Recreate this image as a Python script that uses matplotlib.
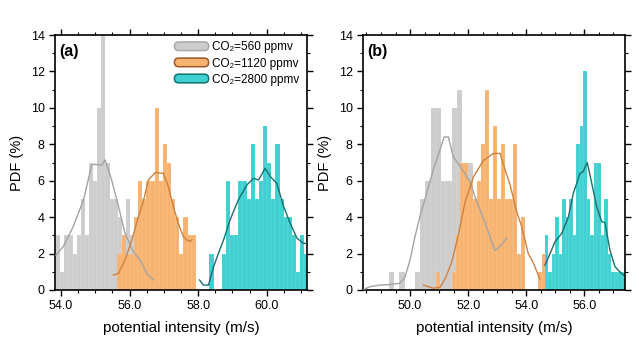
import numpy as np
import matplotlib
matplotlib.use("Agg")
import matplotlib.pyplot as plt
from matplotlib.patches import FancyBboxPatch, Patch
from matplotlib.legend_handler import HandlerPatch
from matplotlib.ticker import MultipleLocator, FormatStrFormatter

plt.rcParams['font.family'] = ['Liberation Sans', 'DejaVu Sans']

# ---------------- data ----------------
labels = ["CO\u2082=560 ppmv", "CO\u2082=1120 ppmv", "CO\u2082=2800 ppmv"]

# panel (a) histograms: first bin left edge, bin width, heights (%)
a_gray_start, a_gray_width = 53.86, 0.12
a_gray_h = [3, 1, 3, 3, 2, 3, 5, 3, 7, 6, 10, 14, 7, 5, 5, 4, 2, 5, 3, 2, 1, 1]
a_orange_start, a_orange_width = 55.65, 0.12
a_orange_h = [2, 3, 2, 2, 4, 6, 5, 6, 6, 10, 6, 8, 7, 5, 4, 2, 4, 3, 3]
a_teal_start, a_teal_width = 58.33, 0.12
a_teal_h = [2, 0, 0, 2, 6, 3, 3, 6, 6, 5, 8, 5, 6, 9, 7, 5, 8, 5, 4, 4, 3, 1, 3, 2]

# panel (a) smoothed pdf curves
a_gray_cx = [53.86, 54.07, 54.36, 54.66, 54.90, 55.00, 55.19, 55.29, 55.48, 55.68, 55.87, 56.11, 56.31, 56.50, 56.70]
a_gray_cy = [1.92, 2.38, 3.48, 4.95, 6.87, 6.9, 6.85, 7.14, 6.04, 4.58, 3.11, 2.10, 1.65, 0.92, 0.55]
a_orange_cx = [55.53, 55.68, 55.87, 56.07, 56.26, 56.40, 56.55, 56.75, 56.99, 57.13, 57.28, 57.42, 57.57, 57.67, 57.77, 57.82]
a_orange_cy = [0.82, 0.92, 1.65, 2.75, 4.03, 4.85, 6.04, 6.45, 6.40, 5.68, 4.58, 3.66, 2.93, 2.75, 2.66, 2.75]
a_teal_cx = [58.04, 58.15, 58.30, 58.45, 58.59, 58.74, 58.93, 59.17, 59.42, 59.61, 59.76, 59.95, 60.10, 60.29, 60.49, 60.68, 60.88, 61.07, 61.21]
a_teal_cy = [0.55, 0.27, 0.27, 1.28, 2.01, 2.75, 3.85, 4.95, 5.77, 6.13, 6.04, 6.68, 6.23, 5.86, 4.58, 3.66, 2.84, 2.56, 2.56]

# panel (b) histograms
b_gray_start, b_gray_width = 49.27, 0.18
b_gray_h = [1, 0, 1, 0, 0, 1, 5, 6, 10, 10, 6, 6, 10, 11, 5, 7, 4, 3, 2, 2, 1, 1]
b_orange_start, b_orange_width = 50.89, 0.14
b_orange_h = [1, 0, 0, 0, 1, 3, 7, 7, 6, 5, 6, 8, 11, 5, 9, 5, 8, 5, 5, 8, 2, 4, 0, 0, 0, 1, 2]
b_teal_start, b_teal_width = 54.645, 0.12
b_teal_h = [3, 1, 2, 4, 2, 5, 4, 5, 3, 8, 9, 12, 5, 3, 7, 7, 3, 5, 2, 1, 1, 1, 1]

# panel (b) smoothed pdf curves
b_gray_cx = [48.41, 48.62, 48.97, 49.31, 49.65, 49.83, 50.00, 50.17, 50.34, 50.57, 50.80, 51.03, 51.17, 51.32, 51.49, 51.72, 51.89, 52.06, 52.24, 52.58, 52.92, 53.10, 53.33]
b_gray_cy = [0.04, 0.18, 0.27, 0.30, 0.37, 0.73, 1.65, 2.93, 4.03, 5.30, 6.60, 7.70, 8.40, 8.40, 7.30, 6.80, 6.40, 5.95, 5.10, 3.70, 2.16, 2.40, 2.84]
b_orange_cx = [50.46, 50.80, 51.03, 51.20, 51.43, 51.66, 51.89, 52.18, 52.52, 52.87, 53.10, 53.27, 53.44, 53.67, 53.84, 54.07, 54.24, 54.47]
b_orange_cy = [0.27, 0.10, 0.15, 0.60, 1.50, 3.00, 4.80, 6.20, 7.10, 7.50, 7.50, 6.60, 5.80, 4.30, 3.50, 2.00, 1.50, 0.60]
b_teal_cx = [54.645, 54.82, 54.99, 55.22, 55.45, 55.62, 55.85, 55.96, 56.10, 56.25, 56.42, 56.60, 56.71, 56.88, 57.05, 57.16, 57.34]
b_teal_cy = [1.37, 2.00, 2.65, 3.10, 4.00, 5.30, 6.40, 6.50, 7.00, 5.90, 4.60, 3.75, 3.70, 2.20, 1.30, 1.10, 0.82]

# ---------------- styles ----------------
fills = ['#cdcdcd', '#f8b370', '#3fd1d1']
lines = ['#a3a3a3', '#cf8141', '#17706f']
edges = ['#aaaaaa', '#9a5a2a', '#117272']

W, H = 639, 347
fig = plt.figure(figsize=(W / 100, H / 100), dpi=100)
ax_a = fig.add_axes([55 / W, 1 - 290 / H, 252 / W, 255 / H])
ax_b = fig.add_axes([363 / W, 1 - 290 / H, 262 / W, 255 / H])


def hist(ax, start, width, heights, color):
    lefts = start + width * np.arange(len(heights))
    ax.bar(lefts, heights, width=width, align='edge', color=color,
           edgecolor=(1, 1, 1, 0.25), linewidth=0.3, zorder=2)


def style(ax, xlim, label):
    ax.set_xlim(*xlim)
    ax.set_ylim(0, 14)
    ax.xaxis.set_major_locator(MultipleLocator(2))
    ax.xaxis.set_minor_locator(MultipleLocator(0.5))
    ax.xaxis.set_major_formatter(FormatStrFormatter('%.1f'))
    ax.yaxis.set_major_locator(MultipleLocator(2))
    ax.yaxis.set_minor_locator(MultipleLocator(1))
    ax.tick_params(which='both', direction='out', top=True, right=True,
                   labelsize=9, width=1, pad=3)
    ax.tick_params(which='major', length=4.5)
    ax.tick_params(which='minor', length=2.5, width=0.8)
    for s in ax.spines.values():
        s.set_linewidth(1.2)
    ax.set_xlabel('potential intensity (m/s)', fontsize=11, labelpad=6)
    ax.set_ylabel('PDF (%)', fontsize=10.5, labelpad=5)
    ax.text(0.015, 0.965, label, transform=ax.transAxes, fontsize=11.5,
            fontweight='bold', va='top', ha='left')


# panel (a)
hist(ax_a, a_gray_start, a_gray_width, a_gray_h, fills[0])
hist(ax_a, a_orange_start, a_orange_width, a_orange_h, fills[1])
hist(ax_a, a_teal_start, a_teal_width, a_teal_h, fills[2])
ax_a.plot(a_gray_cx, a_gray_cy, color=lines[0], lw=1, zorder=3)
ax_a.plot(a_orange_cx, a_orange_cy, color=lines[1], lw=1, zorder=3)
ax_a.plot(a_teal_cx, a_teal_cy, color=lines[2], lw=1, zorder=3)
style(ax_a, (53.83, 61.17), '(a)')

# panel (b)
hist(ax_b, b_gray_start, b_gray_width, b_gray_h, fills[0])
hist(ax_b, b_orange_start, b_orange_width, b_orange_h, fills[1])
hist(ax_b, b_teal_start, b_teal_width, b_teal_h, fills[2])
ax_b.plot(b_gray_cx, b_gray_cy, color=lines[0], lw=1, zorder=3)
ax_b.plot(b_orange_cx, b_orange_cy, color=lines[1], lw=1, zorder=3)
ax_b.plot(b_teal_cx, b_teal_cy, color=lines[2], lw=1, zorder=3)
style(ax_b, (48.38, 57.40), '(b)')


class HandlerRound(HandlerPatch):
    def create_artists(self, legend, orig_handle, xdescent, ydescent,
                       width, height, fontsize, trans):
        p = FancyBboxPatch((-xdescent, -ydescent), width, height,
                           boxstyle="round,pad=0,rounding_size=%f" % (height / 2),
                           facecolor=orig_handle.get_facecolor(),
                           edgecolor=orig_handle.get_edgecolor(),
                           linewidth=1.1, transform=trans)
        return [p]


handles = [Patch(facecolor=fills[i], edgecolor=edges[i]) for i in range(3)]
ax_a.legend(handles, labels, loc='upper right', bbox_to_anchor=(0.97, 0.975),
            frameon=False, fontsize=8.5, handlelength=2.9, handleheight=0.75,
            handletextpad=0.3, labelspacing=0.35, borderpad=0, borderaxespad=0,
            handler_map={Patch: HandlerRound()})

fig.savefig('out.png', dpi=100)
